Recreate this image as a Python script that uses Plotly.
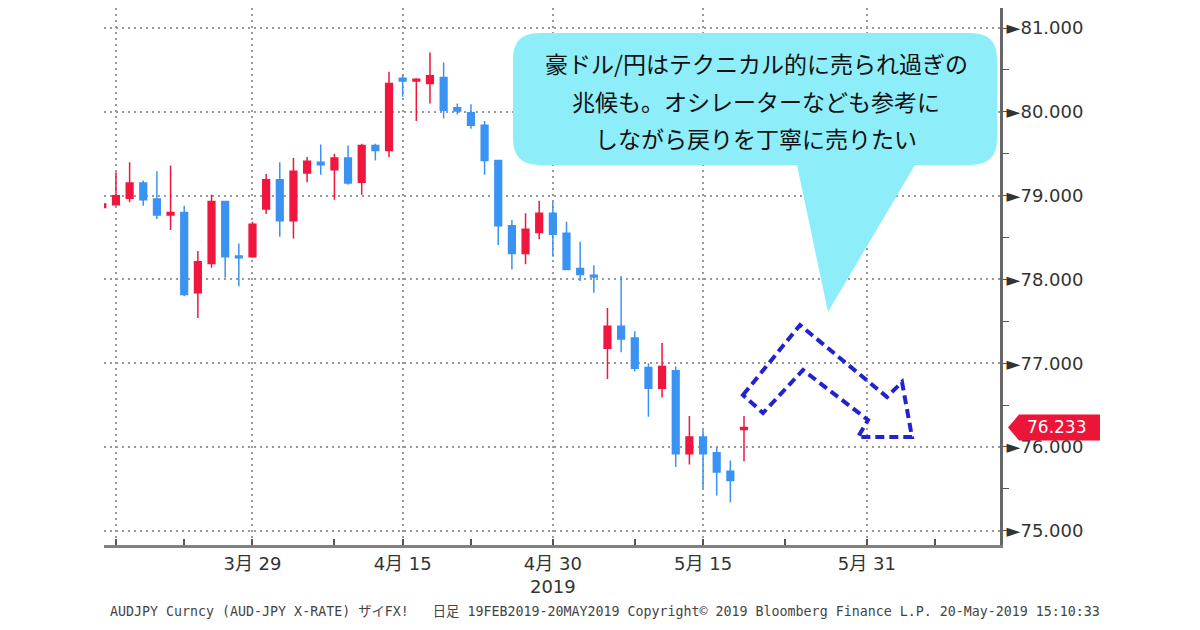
import pandas as pd
import plotly.graph_objects as go

# AUD/JPY daily candles, 14 Mar - 20 May 2019
dates = [
    "2019-03-14", "2019-03-15", "2019-03-18", "2019-03-19", "2019-03-20", "2019-03-21",
    "2019-03-22", "2019-03-25", "2019-03-26", "2019-03-27", "2019-03-28", "2019-03-29",
    "2019-04-01", "2019-04-02", "2019-04-03", "2019-04-04", "2019-04-05", "2019-04-08",
    "2019-04-09", "2019-04-10", "2019-04-11", "2019-04-12", "2019-04-15", "2019-04-16",
    "2019-04-17", "2019-04-18", "2019-04-19", "2019-04-22", "2019-04-23", "2019-04-24",
    "2019-04-25", "2019-04-26", "2019-04-29", "2019-04-30", "2019-05-01", "2019-05-02",
    "2019-05-03", "2019-05-06", "2019-05-07", "2019-05-08", "2019-05-09", "2019-05-10",
    "2019-05-13", "2019-05-14", "2019-05-15", "2019-05-16", "2019-05-17", "2019-05-20",
]
opens = [
    78.86, 78.89, 78.97, 79.15, 78.96, 78.77, 78.80, 77.84, 78.19, 78.93, 78.28, 78.27,
    78.84, 79.19, 78.70, 79.27, 79.40, 79.31, 79.45, 79.16, 79.60, 79.54, 80.40, 80.37,
    80.34, 80.41, 80.05, 79.99, 79.84, 79.42, 78.64, 78.31, 78.56, 78.79, 78.55, 78.13,
    78.05, 77.18, 77.44, 77.30, 76.95, 76.70, 76.91, 75.92, 76.12, 75.93, 75.71, 76.21,
]
highs = [
    78.92, 79.28, 79.40, 79.18, 79.29, 79.36, 78.88, 78.34, 79.01, 78.94, 78.43, 78.69,
    79.26, 79.40, 79.45, 79.46, 79.61, 79.50, 79.60, 79.62, 79.62, 80.48, 80.44, 80.40,
    80.71, 80.59, 80.10, 80.09, 79.89, 79.43, 78.71, 78.79, 78.94, 78.93, 78.69, 78.45,
    78.17, 77.66, 78.04, 77.38, 77.00, 77.24, 76.96, 76.37, 76.20, 76.00, 75.84, 76.37,
]
lows = [
    78.85, 78.88, 78.92, 78.88, 78.72, 78.59, 77.80, 77.54, 78.14, 78.02, 77.92, 78.26,
    78.78, 78.51, 78.49, 79.16, 79.25, 78.95, 79.13, 79.01, 79.42, 79.46, 80.18, 79.89,
    80.10, 79.92, 79.97, 79.80, 79.25, 78.41, 78.12, 78.18, 78.48, 78.27, 78.11, 77.98,
    77.84, 76.81, 77.13, 76.90, 76.36, 76.59, 75.76, 75.79, 75.51, 75.42, 75.34, 75.83,
]
closes = [
    78.90, 79.00, 79.15, 78.95, 78.77, 78.80, 77.82, 78.21, 78.93, 78.27, 78.26, 78.66,
    79.19, 78.70, 79.29, 79.41, 79.37, 79.45, 79.15, 79.60, 79.54, 80.34, 80.37, 80.39,
    80.43, 80.02, 80.01, 79.84, 79.42, 78.64, 78.31, 78.60, 78.79, 78.54, 78.12, 78.06,
    78.03, 77.44, 77.29, 76.94, 76.70, 76.96, 75.92, 76.12, 75.92, 75.70, 75.60, 76.233,
]

major_ticks = ["2019-03-15", "2019-03-29", "2019-04-15", "2019-04-30", "2019-05-15", "2019-05-31"]
major_text = ["", "3月 29", "4月 15", "4月 30<br>2019", "5月 15", "5月 31"]
minor_ticks = ["2019-03-22", "2019-04-08", "2019-04-22", "2019-05-08", "2019-05-23", "2019-06-07"]
price_ticks = [75, 76, 77, 78, 79, 80, 81]

callout_lines = [
    "豪ドル/円はテクニカル的に売られ過ぎの",
    "兆候も。オシレーターなども参考に",
    "しながら戻りを丁寧に売りたい",
]
footer = ("AUDJPY Curncy (AUD-JPY X-RATE) ザイFX!\u00a0\u00a0\u00a0日足 19FEB2019-20MAY2019 "
          "Copyright© 2019 Bloomberg Finance L.P. 20-May-2019 15:10:33")

UP = "#F0163E"
DOWN = "#3A93F2"
GRID = "#9A9A9A"
TEXT = "#333333"

W, H = 1200, 630
PAGE = 8  # default body margin of the html page
# plot area in window pixels: x 104..1000, y 8..545
PX0, PX1, PY0, PY1 = 104, 1000, 8, 545
L, R = PX0 - PAGE, W - (PX1 - PAGE)
T, B = PY0 - PAGE, H - (PY1 - PAGE)
noon = pd.Timedelta(hours=12)


def fx(p):
    return (p - PX0) / (PX1 - PX0)


def fy(p):
    return (PY1 - p) / (PY1 - PY0)


def path(segments):
    s = []
    for cmd, pts in segments:
        if cmd == "Q":
            s.append("Q " + " ".join(f"{fx(a):.5f},{fy(b):.5f}" for a, b in pts))
        else:
            for a, b in pts:
                s.append(f"{cmd} {fx(a):.5f},{fy(b):.5f}")
                cmd = "L"
    return " ".join(s) + " Z"


fig = go.Figure(go.Candlestick(
    x=pd.to_datetime(dates) + noon,
    open=opens, high=highs, low=lows, close=closes,
    increasing=dict(line=dict(color=UP, width=1.5), fillcolor=UP),
    decreasing=dict(line=dict(color=DOWN, width=1.5), fillcolor=DOWN),
    whiskerwidth=0, showlegend=False, hoverinfo="skip",
))

# speech bubble
bl, br, bt, bb, rr = 513, 997, 33, 165, 26
bubble = path([
    ("M", [(bl + rr, bt)]), ("L", [(br - rr, bt)]), ("Q", [(br, bt), (br, bt + rr)]),
    ("L", [(br, bb - rr)]), ("Q", [(br, bb), (br - rr, bb)]),
    ("L", [(915, bb), (828, 312), (797, bb), (bl + rr, bb)]),
    ("Q", [(bl, bb), (bl, bb - rr)]), ("L", [(bl, bt + rr)]), ("Q", [(bl, bt), (bl + rr, bt)]),
])
fig.add_shape(type="path", path=bubble, xref="paper", yref="paper",
              fillcolor="#8DEEFA", line=dict(width=0))

# dashed "rebound then fall" arrow
arrow = path([("M", [(743, 395)]),
              ("L", [(800, 325), (887, 397), (902, 382), (912, 437), (858, 437),
                     (868, 420), (803, 370), (763, 413)])])
fig.add_shape(type="path", path=arrow, xref="paper", yref="paper",
              line=dict(color="#2222D0", width=4, dash="9px,5px"))

for line, ypx in zip(callout_lines, [63, 101, 138]):
    fig.add_annotation(text=line, x=fx(756), y=fy(ypx), xref="paper", yref="paper",
                       showarrow=False, xanchor="center", yanchor="middle",
                       font=dict(family="Noto Sans CJK JP", size=23, color="#111111"))

# last price badge
last = closes[-1]
hh = 0.155
fig.add_shape(type="path", xref="paper", yref="y",
              path=(f"M {fx(1008):.5f},{last} L {fx(1019):.5f},{last + hh} "
                    f"L {fx(1100):.5f},{last + hh} L {fx(1100):.5f},{last - hh} "
                    f"L {fx(1019):.5f},{last - hh} Z"),
              fillcolor="#EC1437", line=dict(width=0))
fig.add_annotation(text=f"{last:.3f}", x=fx(1056), y=last, xref="paper", yref="y",
                   showarrow=False, xanchor="center", yanchor="middle",
                   font=dict(family="DejaVu Sans", size=17, color="white"))

fig.add_annotation(text=footer, x=fx(108), y=fy(611), xref="paper", yref="paper",
                   showarrow=False, xanchor="left", yanchor="middle",
                   font=dict(family="DejaVu Sans Mono, Noto Sans CJK JP", size=13.3, color="#444444"))

fig.update_layout(
    width=W, height=H,
    margin=dict(l=L, r=R, t=T, b=B, autoexpand=False),
    paper_bgcolor="white", plot_bgcolor="white",
    showlegend=False,
    xaxis=dict(
        type="date",
        rangeslider=dict(visible=False),
        rangebreaks=[dict(bounds=["sat", "mon"])],
        range=["2019-03-14 15:00", "2019-06-14 06:00"],
        tickmode="array",
        tickvals=list(pd.to_datetime(major_ticks) + noon),
        ticktext=major_text,
        ticks="inside", ticklen=6, tickwidth=2, tickcolor="#555555",
        minor=dict(tickmode="array", tickvals=list(pd.to_datetime(minor_ticks) + noon),
                   ticks="inside", ticklen=6, tickwidth=2, tickcolor="#555555", showgrid=False),
        showgrid=True, gridcolor=GRID, gridwidth=2, griddash="2px,4px",
        showline=True, linecolor="#808080", linewidth=3,
        tickfont=dict(family="DejaVu Sans, Noto Sans CJK JP", size=18, color=TEXT),
        fixedrange=True,
    ),
    yaxis=dict(
        side="right",
        range=[74.83, 81.24],
        tickmode="array",
        tickvals=price_ticks,
        ticktext=[f"►{v:.3f}" for v in price_ticks],
        ticks="",
        minor=dict(dtick=0.5, ticks="outside", ticklen=6, tickwidth=1, tickcolor="#555555",
                   showgrid=False),
        showgrid=True, gridcolor=GRID, gridwidth=2, griddash="2px,4px",
        showline=True, linecolor="#666666", linewidth=3,
        zeroline=False,
        tickfont=dict(family="DejaVu Sans", size=18, color=TEXT),
        fixedrange=True,
    ),
)

fig.write_html("out.html")
